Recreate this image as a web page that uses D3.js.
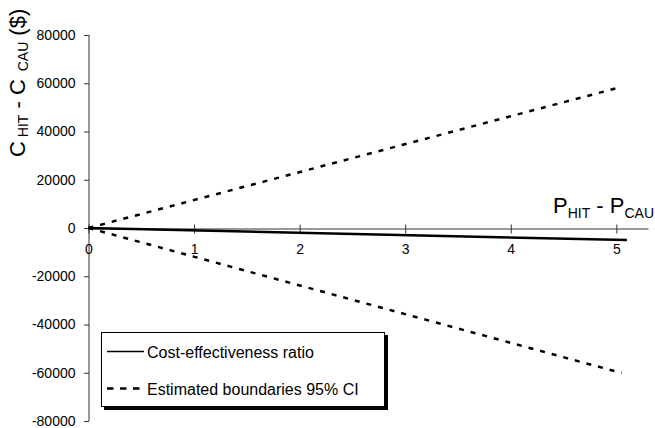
<!DOCTYPE html>
<html>
<head>
<meta charset="utf-8">
<script src="https://cdn.jsdelivr.net/npm/d3@7"></script>
<style>
  body { margin: 0; background: #fff; }
  svg { display: block; font-family: "Liberation Sans", Arial, sans-serif; }
</style>
</head>
<body>
<div id="chart"></div>
<script>
// data
const xTicks = [0, 1, 2, 3, 4, 5];
const yTicks = [-80000, -60000, -40000, -20000, 0, 20000, 40000, 60000, 80000];
const ratioX = [0, 5.1];
const ratioY = [0, -5000];
const ciX = [0, 5.05];
const upperY = [0, 58500];
const lowerY = [0, -60100];
const legendLabels = ['Cost-effectiveness ratio', 'Estimated boundaries 95% CI'];

const width = 655, height = 428;

const svg = d3.select('#chart').append('svg')
    .attr('width', width)
    .attr('height', height);

const x = d3.scaleLinear().domain([0, 5.3]).range([88.5, 648]);
const y = d3.scaleLinear().domain([-80000, 80000]).range([421, 35]);

// plain hyphen for negatives, like the original
const fmt = d => String(d);

// y axis
const yAxis = svg.append('g')
    .attr('transform', 'translate(' + x(0) + ',0)')
    .call(d3.axisLeft(y).tickValues(yTicks).tickSize(5).tickSizeOuter(0).tickPadding(8).tickFormat(fmt));
yAxis.selectAll('text').style('font-size', '14px').attr('fill', '#000');
yAxis.selectAll('line, path').attr('stroke', '#333');
yAxis.select('.domain').attr('d', 'M0.5,' + y(80000) + 'V' + y(-80000));
yAxis.selectAll('.tick line').attr('x2', -5).attr('transform', 'translate(0.5,0)');

// x axis, ticks cross the line
const xAxis = svg.append('g')
    .attr('transform', 'translate(0,' + (Math.round(y(0)) + 0.5) + ')')
    .call(d3.axisBottom(x).tickValues(xTicks).tickSize(5).tickSizeOuter(0).tickPadding(11).tickFormat(fmt));
xAxis.selectAll('text').style('font-size', '14px').attr('fill', '#000');
xAxis.selectAll('line, path').attr('stroke', '#333');
xAxis.selectAll('.tick line').attr('y1', -4);

const line = d3.line().x(d => x(d[0])).y(d => y(d[1]));

svg.append('path')
    .datum(d3.zip(ciX, upperY))
    .attr('d', line)
    .attr('fill', 'none')
    .attr('stroke', '#000')
    .attr('stroke-width', 2.5)
    .attr('stroke-dasharray', '5,7');

svg.append('path')
    .datum(d3.zip(ciX, lowerY))
    .attr('d', line)
    .attr('fill', 'none')
    .attr('stroke', '#000')
    .attr('stroke-width', 2.5)
    .attr('stroke-dasharray', '5,7');

svg.append('path')
    .datum(d3.zip(ratioX, ratioY))
    .attr('d', line)
    .attr('fill', 'none')
    .attr('stroke', '#000')
    .attr('stroke-width', 2.5);

// axis titles with subscripts
const xTitle = svg.append('text')
    .attr('x', 553)
    .attr('y', 213)
    .style('font-size', '22px');
xTitle.append('tspan').text('P');
xTitle.append('tspan').text('HIT').style('font-size', '14px').attr('dy', 5);
xTitle.append('tspan').text(' - ').attr('dy', -5);
xTitle.append('tspan').text('P');
xTitle.append('tspan').text('CAU').style('font-size', '14px').attr('dy', 5);

const yTitle = svg.append('text')
    .attr('transform', 'translate(25,157) rotate(-90)')
    .style('font-size', '22px');
yTitle.append('tspan').text('C');
yTitle.append('tspan').text(' HIT').style('font-size', '14px').attr('dy', 3);
yTitle.append('tspan').text(' - ').attr('dy', -3);
yTitle.append('tspan').text('C');
yTitle.append('tspan').text(' CAU').style('font-size', '14px').attr('dy', 3).attr('dx', 4);
yTitle.append('tspan').text(' ($)').attr('dy', -3);

// legend
const lg = svg.append('g');
lg.append('rect')
    .attr('x', 104).attr('y', 335)
    .attr('width', 284).attr('height', 75)
    .attr('fill', '#000');
lg.append('rect')
    .attr('x', 101.5).attr('y', 332.5)
    .attr('width', 283).attr('height', 74)
    .attr('fill', '#fff')
    .attr('stroke', '#000')
    .attr('stroke-width', 1);

legendLabels.forEach(function(label, i) {
    const ly = 351.5 + i * 37;
    lg.append('line')
        .attr('x1', 107).attr('x2', 144)
        .attr('y1', ly).attr('y2', ly)
        .attr('stroke', '#000')
        .attr('stroke-width', i === 0 ? 1.5 : 2.5)
        .attr('stroke-dasharray', i === 0 ? null : '6.5,6.5');
    lg.append('text')
        .attr('x', 147)
        .attr('y', ly + 6)
        .style('font-size', '16px')
        .text(label);
});
</script>
</body>
</html>
